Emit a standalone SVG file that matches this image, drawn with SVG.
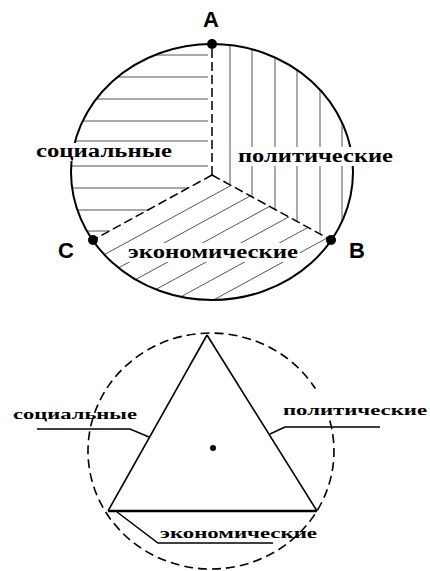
<svg xmlns="http://www.w3.org/2000/svg" width="430" height="571" viewBox="0 0 430 571">
<style>
.hatch{stroke:#555;stroke-width:1}
.outline{fill:none;stroke:#000;stroke-width:2}
.div{stroke:#000;stroke-width:1.5;stroke-dasharray:9 4;fill:none}
.lbl{font-family:"Liberation Serif","DejaVu Serif",serif;font-weight:bold;fill:#000}
.pt{font-family:"Liberation Sans",Arial,sans-serif;font-weight:bold;font-size:22px;fill:#000;text-anchor:middle}
.lead{fill:none;stroke:#000;stroke-width:1.5}
.tri{fill:none;stroke:#000;stroke-width:1.6}
</style>
<defs>
<clipPath id="cSoc"><path d="M212 175 L212 44 A141 128 0 0 0 93 240 Z"/></clipPath>
<clipPath id="cPol"><path d="M212 175 L212 44 A141 128 0 0 1 331 240 Z"/></clipPath>
<clipPath id="cEco"><path d="M212 175 L331 240 A141 128 0 0 1 93 240 Z"/></clipPath>
</defs>
<rect width="430" height="571" fill="#fff"/>

<g id="top-diagram">
  <g id="sector-social" clip-path="url(#cSoc)">
    <line class="hatch" x1="60" y1="55" x2="208" y2="55"/>
    <line class="hatch" x1="60" y1="77" x2="208" y2="77"/>
    <line class="hatch" x1="60" y1="99" x2="208" y2="99"/>
    <line class="hatch" x1="60" y1="121" x2="208" y2="121"/>
    <line class="hatch" x1="60" y1="141" x2="208" y2="141"/>
    <line class="hatch" x1="60" y1="166" x2="208" y2="166"/>
    <line class="hatch" x1="60" y1="188" x2="208" y2="188"/>
    <line class="hatch" x1="60" y1="210" x2="208" y2="210"/>
    <line class="hatch" x1="60" y1="231" x2="208" y2="231"/>
  </g>
  <g id="sector-political" clip-path="url(#cPol)">
    <line class="hatch" x1="230" y1="40" x2="230" y2="260"/>
    <line class="hatch" x1="252" y1="40" x2="252" y2="260"/>
    <line class="hatch" x1="275" y1="40" x2="275" y2="260"/>
    <line class="hatch" x1="297" y1="40" x2="297" y2="260"/>
    <line class="hatch" x1="320" y1="40" x2="320" y2="260"/>
    <line class="hatch" x1="342" y1="40" x2="342" y2="260"/>
  </g>
  <g id="sector-economic" clip-path="url(#cEco)">
    <line class="hatch" x1="60" y1="278.8" x2="360" y2="115"/>
    <line class="hatch" x1="60" y1="299.8" x2="360" y2="136"/>
    <line class="hatch" x1="60" y1="320.8" x2="360" y2="157"/>
    <line class="hatch" x1="60" y1="341.8" x2="360" y2="178"/>
    <line class="hatch" x1="60" y1="362.8" x2="360" y2="199"/>
    <line class="hatch" x1="60" y1="383.8" x2="360" y2="220"/>
    <line class="hatch" x1="60" y1="404.8" x2="360" y2="241"/>
  </g>
  <ellipse id="outer-circle" class="outline" cx="212" cy="172" rx="141" ry="128"/>
  <g id="label-social">
    <rect x="34" y="143" width="140" height="18" fill="#fff"/>
    <text class="lbl" x="36" y="157" font-size="18" textLength="136" lengthAdjust="spacingAndGlyphs">социальные</text>
  </g>
  <g id="label-political">
    <rect x="236" y="147" width="160" height="19" fill="#fff"/>
    <text class="lbl" x="238" y="162" font-size="18" textLength="155" lengthAdjust="spacingAndGlyphs">политические</text>
  </g>
  <g id="label-economic">
    <rect x="126" y="243" width="174" height="19" fill="#fff"/>
    <text class="lbl" x="128" y="258" font-size="18" textLength="170" lengthAdjust="spacingAndGlyphs">экономические</text>
  </g>
  <g id="point-A">
    <circle cx="212" cy="44" r="5"/>
    <text class="pt" x="211" y="27">A</text>
  </g>
  <g id="point-B">
    <circle cx="331" cy="240" r="5"/>
    <text class="pt" x="357" y="258">B</text>
  </g>
  <g id="point-C">
    <circle cx="93" cy="240" r="5"/>
    <text class="pt" x="66" y="258">C</text>
  </g>
</g>

<g id="bottom-diagram">
  <path id="dashed-circle" d="M329.8 420.5 A123 118 0 1 1 315.3 388.5" fill="none" stroke="#000" stroke-width="1.6" stroke-dasharray="9 5"/>
  <g id="triangle">
    <line class="tri" x1="207" y1="335" x2="108" y2="511"/>
    <line class="tri" x1="207" y1="335" x2="317" y2="511"/>
    <line x1="108" y1="511" x2="317" y2="511" stroke="#000" stroke-width="2.6"/>
  </g>
  <circle id="center-dot" cx="213" cy="448" r="3"/>
  <g id="label-social-2">
    <text class="lbl" x="13" y="419" font-size="15" textLength="124" lengthAdjust="spacingAndGlyphs">социальные</text>
  </g>
  <g id="label-political-2">
    <text class="lbl" x="283" y="415" font-size="15" textLength="144" lengthAdjust="spacingAndGlyphs">политические</text>
  </g>
  <g id="label-economic-2">
    <text class="lbl" x="160" y="538" font-size="15" textLength="157" lengthAdjust="spacingAndGlyphs">экономические</text>
  </g>
</g>

<g id="connectors">
  <line class="div" x1="212" y1="175" x2="212" y2="46"/>
  <line class="div" x1="212" y1="175" x2="331" y2="240"/>
  <line class="div" x1="212" y1="175" x2="93" y2="240"/>
  <polyline class="lead" points="37,429 130,429 149,437"/>
  <polyline class="lead" points="380,427 285,427 270,434"/>
  <polyline class="lead" points="273,543 158,543 117,512"/>
</g>
</svg>
